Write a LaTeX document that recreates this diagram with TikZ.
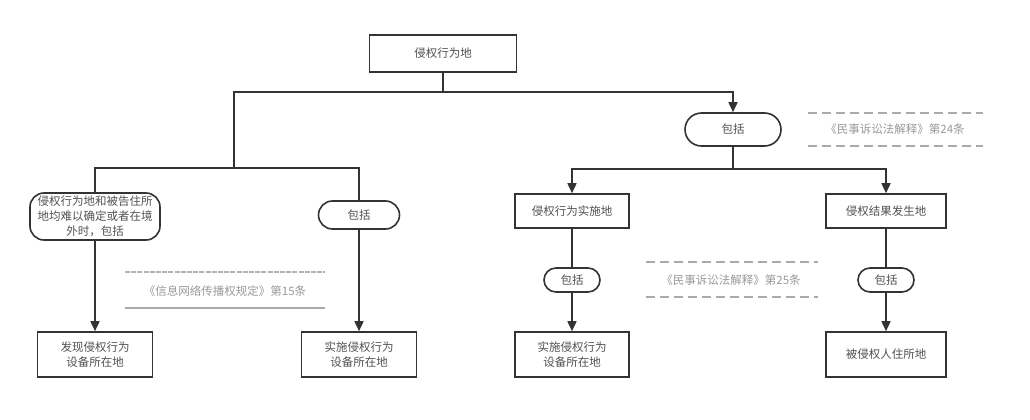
\documentclass[tikz,border=0pt]{standalone}
\usepackage{fontspec}
\setmainfont{Noto Sans CJK SC}
\usetikzlibrary{arrows.meta,shapes.misc}
\definecolor{ink}{HTML}{333333}
\definecolor{notegray}{HTML}{999999}
\definecolor{linegray}{HTML}{AAAAAA}
\begin{document}
\begin{tikzpicture}[x=1pt,y=-1pt,
  every node/.style={font=\fontsize{11.5}{15}\selectfont, text=ink!85, inner sep=0pt, align=center},
  box/.style={draw=ink, line width=1.6pt, fill=white, rectangle},
  pill/.style={draw=ink, line width=1.6pt, fill=white, rounded rectangle},
  rbox/.style={draw=ink, line width=1.6pt, fill=white, rectangle, rounded corners=14pt},
  conn/.style={draw=ink, line width=1.6pt},
  arr/.style={conn, -{Triangle[length=10pt,width=9pt]}},
  notetext/.style={text=notegray},
  noteline/.style={draw=linegray, line width=2pt, dash pattern=on 9pt off 5pt},
  noteline2/.style={draw=linegray, line width=1.8pt},
  noteline3/.style={draw=linegray!90, line width=1.8pt, dash pattern=on 5pt off 1.2pt}
]
\useasboundingbox (0,0) rectangle (1030,420);

% nodes
\node[box, minimum width=147pt, minimum height=37pt] (top) at (443,53.5) {侵权行为地};
\node[pill, minimum width=96pt, minimum height=33pt] (inc1) at (733,129.5) {包括};
\node[rbox, minimum width=130pt, minimum height=47pt] (bL) at (95,216.5) {侵权行为地和被告住所\\地均难以确定或者在境\\外时，包括};
\node[pill, minimum width=81pt, minimum height=28pt] (inc2) at (359,215) {包括};
\node[box, minimum width=114pt, minimum height=34pt] (impl) at (572,211) {侵权行为实施地};
\node[box, minimum width=120pt, minimum height=34pt] (res) at (886,211) {侵权结果发生地};
\node[pill, minimum width=56pt, minimum height=24pt] (inc3) at (572,280) {包括};
\node[pill, minimum width=56pt, minimum height=24pt] (inc4) at (886,280) {包括};
\node[box, minimum width=115pt, minimum height=45pt] (b1) at (95,354.5) {发现侵权行为\\设备所在地};
\node[box, minimum width=115pt, minimum height=45pt] (b2) at (359,354.5) {实施侵权行为\\设备所在地};
\node[box, minimum width=114pt, minimum height=45pt] (b3) at (572,354.5) {实施侵权行为\\设备所在地};
\node[box, minimum width=120pt, minimum height=45pt] (b4) at (886,354.5) {被侵权人住所地};

% junctions
\coordinate (j1) at (443,92);
\coordinate (jL) at (234,92);
\coordinate (jL2) at (234,168);
\coordinate (jR) at (733,169);

% connectors
\draw[conn] (top.south) -- (j1);
\draw[arr] (j1) -| (inc1.north);
\draw[conn] (j1) -- (jL) -- (jL2);
\draw[conn] (jL2) -| (bL.north);
\draw[conn] (jL2) -| (inc2.north);
\draw[conn] (inc1.south) -- (jR);
\draw[arr] (jR) -| (impl.north);
\draw[arr] (jR) -| (res.north);
\draw[arr] (bL.south) -- (b1.north);
\draw[arr] (inc2.south) -- (b2.north);
\draw[conn] (impl.south) -- (inc3.north);
\draw[arr] (inc3.south) -- (b3.north);
\draw[conn] (res.south) -- (inc4.north);
\draw[arr] (inc4.south) -- (b4.north);

% notes
\node[notetext] (n24) at (895,129.5) {《民事诉讼法解释》第24条};
\coordinate (n24a) at (808,113); \coordinate (n24b) at (983,113);
\coordinate (n24c) at (808,146); \coordinate (n24d) at (983,146);
\draw[noteline] (n24a) -- (n24b);
\draw[noteline] (n24c) -- (n24d);

\node[notetext] (n25) at (731,280) {《民事诉讼法解释》第25条};
\coordinate (n25a) at (646,262); \coordinate (n25b) at (818,262);
\coordinate (n25c) at (646,297); \coordinate (n25d) at (818,297);
\draw[noteline] (n25a) -- (n25b);
\draw[noteline] (n25c) -- (n25d);

\node[notetext] (n15) at (225,291) {《信息网络传播权规定》第15条};
\coordinate (n15a) at (125,272); \coordinate (n15b) at (325,272);
\coordinate (n15c) at (125,308); \coordinate (n15d) at (325,308);
\draw[noteline3] (n15a) -- (n15b);
\draw[noteline2] (n15c) -- (n15d);
\end{tikzpicture}
\end{document}
